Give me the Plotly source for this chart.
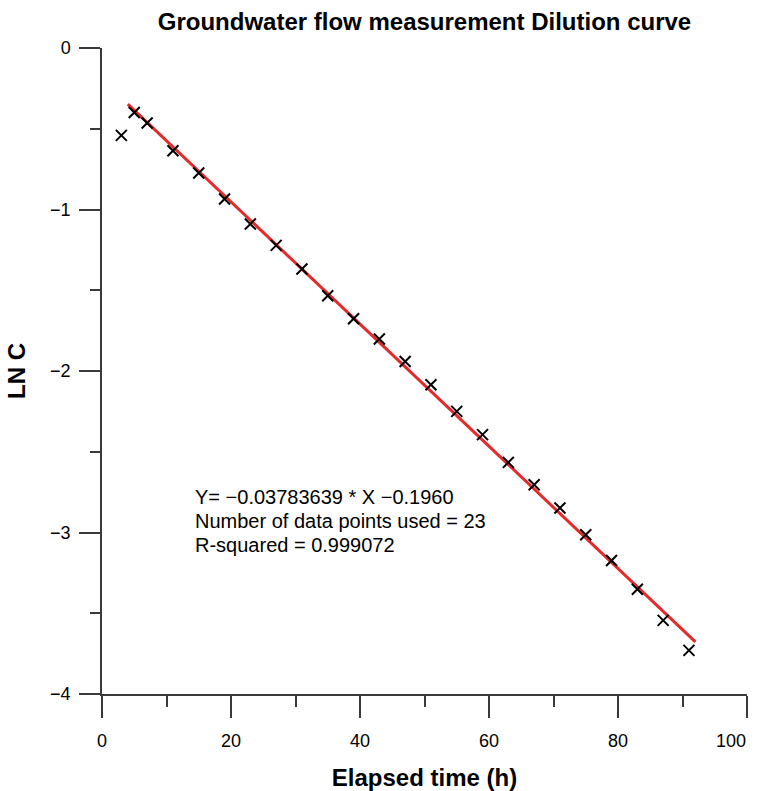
import plotly.graph_objects as go

# Data
elapsed_h = [3, 5, 7, 11, 15, 19, 23, 27, 31, 35, 39, 43, 47, 51, 55, 59, 63, 67, 71, 75, 79, 83, 87, 91]
ln_c = [-0.541, -0.399, -0.464, -0.636, -0.774, -0.935, -1.090, -1.222, -1.368, -1.534, -1.676, -1.802,
        -1.941, -2.085, -2.250, -2.394, -2.566, -2.704, -2.848, -3.014, -3.173, -3.351, -3.544, -3.730]

slope = -0.03783639
intercept = -0.1960
fit_x = [4, 92]
fit_y = [slope * v + intercept for v in fit_x]

x_ticks = [0, 20, 40, 60, 80, 100]
x_tick_labels = ["0", "20", "40", "60", "80", ""]   # last label drawn right-aligned below
last_x_label = "100"
y_ticks = [0, -1, -2, -3, -4]
y_tick_labels = ["0", "\u22121", "\u22122", "\u22123", "\u22124"]

stats_lines = ["Y= \u22120.03783639 * X \u22120.1960",
               "Number of data points used = 23",
               "R-squared = 0.999072"]

FONT = "Liberation Sans, Arial, sans-serif"
AX = "#3a3a3a"

fig = go.Figure()
fig.add_trace(go.Scatter(x=fit_x, y=fit_y, mode="lines",
                         line=dict(color="#e42a2a", width=3), showlegend=False))
fig.add_trace(go.Scatter(x=elapsed_h, y=ln_c, mode="markers",
                         marker=dict(symbol="x-thin", size=11, line=dict(color="black", width=2)),
                         showlegend=False))

fig.update_layout(
    width=760, height=791,
    margin=dict(l=102, r=13, t=48, b=97, autoexpand=False),
    paper_bgcolor="white", plot_bgcolor="white",
    font=dict(family=FONT, color="black"),
    title=dict(text="<b>Groundwater flow measurement Dilution curve</b>",
               x=0.5, xref="paper", xanchor="center",
               y=1 - 22 / 791, yanchor="middle", yref="container",
               font=dict(size=24, family=FONT, color="black")),
    xaxis=dict(range=[0, 100], tickvals=x_ticks, ticktext=x_tick_labels, automargin=False,
               ticklabelstandoff=8,
               showline=True, linecolor=AX, linewidth=1.5,
               ticks="outside", ticklen=22, tickwidth=1.5, tickcolor=AX,
               minor=dict(dtick=10, tick0=0, ticks="outside", ticklen=11, tickwidth=1.5, tickcolor=AX),
               showgrid=False, zeroline=False, tickfont=dict(size=18),
               title=dict(text="<b>Elapsed time (h)</b>", font=dict(size=24), standoff=20)),
    yaxis=dict(range=[-4, 0], tickvals=y_ticks, ticktext=y_tick_labels, ticklabelstandoff=5,
               automargin=False,
               showline=True, linecolor=AX, linewidth=1.5,
               ticks="outside", ticklen=21, tickwidth=1.5, tickcolor=AX,
               minor=dict(dtick=0.5, tick0=0, ticks="outside", ticklen=10, tickwidth=1.5, tickcolor=AX),
               showgrid=False, zeroline=False, tickfont=dict(size=18),
               title=dict(text="<b>LN C</b>", font=dict(size=24), standoff=18)),
)

# last x tick label, right-aligned to its tick so it stays inside the page
fig.add_annotation(text=last_x_label, xref="x", x=x_ticks[-1], yref="paper", y=0,
                   xanchor="right", yanchor="middle", yshift=-47, xshift=1,
                   showarrow=False, font=dict(size=18, family=FONT, color="black"))

for i, line in enumerate(stats_lines):
    fig.add_annotation(text=line, xref="paper", yref="paper",
                       x=(193 - 102) / 645, y=1 - (497 + 24 * i - 48) / 646,
                       xanchor="left", yanchor="middle",
                       align="left", showarrow=False, font=dict(size=20, family=FONT, color="black"))

fig.write_html("out.html")
